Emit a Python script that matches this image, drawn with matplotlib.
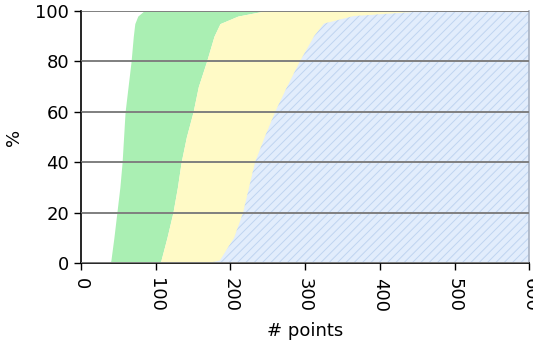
#!/usr/bin/env python3
"""Cumulative share (%) of runs vs number of points, three stacked bands."""

import matplotlib
matplotlib.use('Agg')
import matplotlib.pyplot as plt

# cumulative percent levels and the # points where each band boundary sits
PCT      = [0, 1, 10, 20, 30, 40, 50, 60, 70, 80, 90, 95, 98, 100]
GREEN_X  = [39, 40, 44, 48, 52, 55, 57, 59, 63, 67, 70, 72, 76, 84]
YELLOW_X = [106, 107, 115, 123, 129, 134, 141, 150, 157, 168, 178, 186, 210, 245]
BLUE_X   = [172, 186, 205, 217, 225, 233, 246, 260, 276, 293, 312, 325, 365, 465]
X_MAX    = 600

X_TICKS = [0, 100, 200, 300, 400, 500, 600]
Y_TICKS = [0, 20, 40, 60, 80, 100]

GREEN  = '#aaefb3'
YELLOW = '#fffac6'
BLUE   = '#e2edfc'
HATCH  = '#bfd4f0'

plt.rcParams['font.family'] = 'DejaVu Sans'
plt.rcParams['hatch.linewidth'] = 0.7

fig = plt.figure(figsize=(5.33, 3.45), dpi=100)
ax = fig.add_axes([0.152, 0.238, 0.841, 0.730])

ax.fill_betweenx(PCT, GREEN_X, YELLOW_X, color=GREEN, linewidth=0, zorder=1)
ax.fill_betweenx(PCT, YELLOW_X, BLUE_X, color=YELLOW, linewidth=0, zorder=1)
ax.fill_betweenx(PCT, BLUE_X, [X_MAX] * len(PCT), facecolor=BLUE,
                 edgecolor=HATCH, hatch='////', linewidth=0, zorder=1)

ax.set_xlim(0, X_MAX)
ax.set_ylim(0, 100)
ax.set_xticks(X_TICKS)
ax.set_yticks(Y_TICKS)
ax.set_xticklabels([str(t) for t in X_TICKS], rotation=-90, ha='center')
ax.tick_params(labelsize=13, length=5, width=1, direction='out', color='black')
ax.tick_params(axis='x', pad=6)

ax.set_axisbelow(False)
ax.yaxis.grid(True, color='#7f7f7f', linewidth=1.4)
ax.xaxis.grid(False)

ax.spines['top'].set_visible(False)
ax.spines['right'].set_color('#a8b2c2')
ax.spines['right'].set_linewidth(1.2)
for s in ('left', 'bottom'):
    ax.spines[s].set_color('black')
    ax.spines[s].set_linewidth(1.2)

ax.set_xlabel('# points', fontsize=13, labelpad=7)
ax.set_ylabel('%', fontsize=13, labelpad=9)

fig.savefig('out.png', dpi=100)
